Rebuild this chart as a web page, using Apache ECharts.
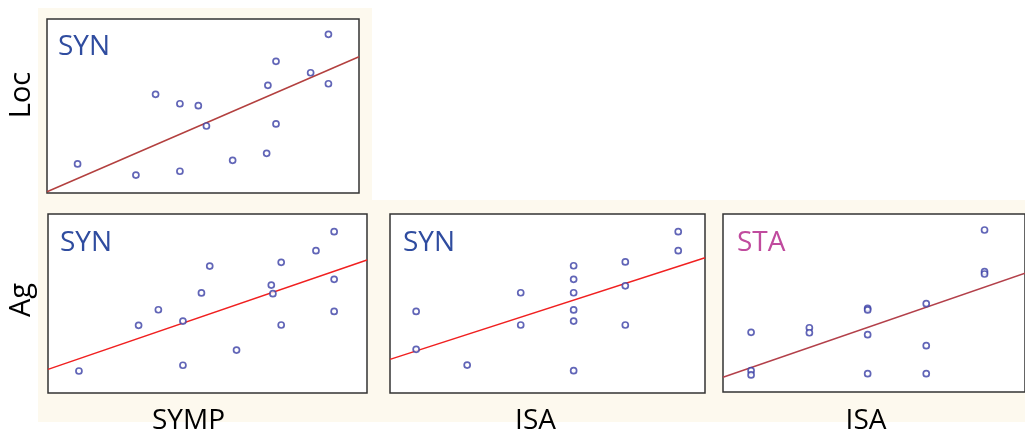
<!DOCTYPE html>
<html>
<head>
<meta charset="utf-8">
<script src="https://cdn.jsdelivr.net/npm/echarts@6/dist/echarts.min.js"></script>
<style>html,body{margin:0;padding:0;background:#fff;}#c{width:1025px;height:432px;}</style>
</head>
<body>
<div id="c"></div>
<script>
// Panel 1: Loc vs SYMP (SYN)
const p1Points = [[0.98,1.67],[2.85,1.03],[3.48,5.67],[4.26,5.13],[4.26,1.25],[4.85,5.02],[5.11,3.85],[5.95,1.88],[7.04,2.28],[7.08,6.19],[7.34,7.57],[7.34,3.97],[8.45,6.91],[9.02,9.12],[9.02,6.28]];
const p1Line = [[0,0.07],[10,7.83]];
// Panel 2: Ag vs SYMP (SYN)
const p2Points = [[0.97,1.23],[2.84,3.78],[3.46,4.65],[4.23,4.02],[4.23,1.55],[4.81,5.59],[5.07,7.09],[5.91,2.40],[7.00,6.03],[7.05,5.55],[7.31,7.30],[7.31,3.80],[8.40,7.95],[8.97,9.01],[8.97,6.35],[8.97,4.56]];
const p2Line = [[0,1.32],[10,7.43]];
// Panel 3: Ag vs ISA (SYN)
const p3Points = [[0.83,4.56],[0.83,2.44],[2.45,1.56],[4.15,5.60],[4.15,3.80],[5.83,7.11],[5.83,6.35],[5.83,5.60],[5.83,4.64],[5.83,4.02],[5.83,1.25],[7.47,7.32],[7.47,5.99],[7.47,3.80],[9.15,9.01],[9.15,7.95]];
const p3Line = [[0,1.88],[10,7.56]];
// Panel 4: Ag vs ISA (STA)
const p4Points = [[0.93,3.35],[0.93,1.20],[0.93,0.96],[2.86,3.61],[2.86,3.33],[4.79,4.70],[4.79,4.61],[4.79,3.22],[4.79,1.03],[6.73,4.96],[6.73,2.60],[6.73,1.03],[8.66,9.10],[8.66,6.76],[8.66,6.63]];
const p4Line = [[0,0.83],[10,6.68]];

const panelTags = ['SYN','SYN','SYN','STA'];
const rowLabels = ['Loc','Ag'];
const colLabels = ['SYMP','ISA','ISA'];

const grids = [
  {left:47, top:19, width:312, height:174},
  {left:48, top:214, width:319, height:179},
  {left:390, top:214, width:315, height:179},
  {left:723, top:214, width:315, height:178}
];
const lineColors = ['#b3403f','#f02020','#f02020','#b3404a'];
const pointSets = [p1Points,p2Points,p3Points,p4Points];
const lineSets = [p1Line,p2Line,p3Line,p4Line];

const xAxes = [], yAxes = [], series = [];
grids.forEach((g,i)=>{
  g.show = true; g.backgroundColor = '#ffffff'; g.borderColor = '#333'; g.borderWidth = 1.5;
  xAxes.push({gridIndex:i,type:'value',min:0,max:10,show:false});
  yAxes.push({gridIndex:i,type:'value',min:0,max:10,show:false});
  series.push({type:'line',xAxisIndex:i,yAxisIndex:i,data:lineSets[i],symbol:'none',
    lineStyle:{color:lineColors[i],width:1.5},silent:true,animation:false,z:2});
  series.push({type:'scatter',xAxisIndex:i,yAxisIndex:i,data:pointSets[i],symbol:'circle',symbolSize:6,
    itemStyle:{color:'#ffffff',borderColor:'#3a3fa5',borderWidth:1.7},animation:false,z:3});
});

const tagPos = [[58,47],[60,243],[403,243],[737,243]];
const tagColors = ['#2f4c9f','#2f4c9f','#2f4c9f','#c04b9e'];
const graphics = [
  {type:'rect',z:-100,shape:{x:38,y:8,width:334,height:192},style:{fill:'#fdf9ee'}},
  {type:'rect',z:-100,shape:{x:38,y:200,width:987,height:222},style:{fill:'#fdf9ee'}}
];
panelTags.forEach((t,i)=>{
  graphics.push({type:'text',z:100,x:tagPos[i][0],y:tagPos[i][1],
    style:{text:t,fill:tagColors[i],font:'28px "Open Sans"',verticalAlign:'middle',align:'left'}});
});
const rowY = [95,300];
rowLabels.forEach((t,i)=>{
  graphics.push({type:'text',z:100,x:22,y:rowY[i],rotation:Math.PI/2,
    style:{text:t,fill:'#000',font:'29px "Open Sans"',verticalAlign:'middle',align:'center'}});
});
const colX = [188.5,535.5,866];
colLabels.forEach((t,i)=>{
  graphics.push({type:'text',z:100,x:colX[i],y:421,
    style:{text:t,fill:'#000',font:'28px "Open Sans"',verticalAlign:'middle',align:'center'}});
});

const chart = echarts.init(document.getElementById('c'));
chart.setOption({
  backgroundColor:'#ffffff',
  animation:false,
  grid:grids, xAxis:xAxes, yAxis:yAxes, series:series,
  graphic:graphics
});
</script>
</body>
</html>
